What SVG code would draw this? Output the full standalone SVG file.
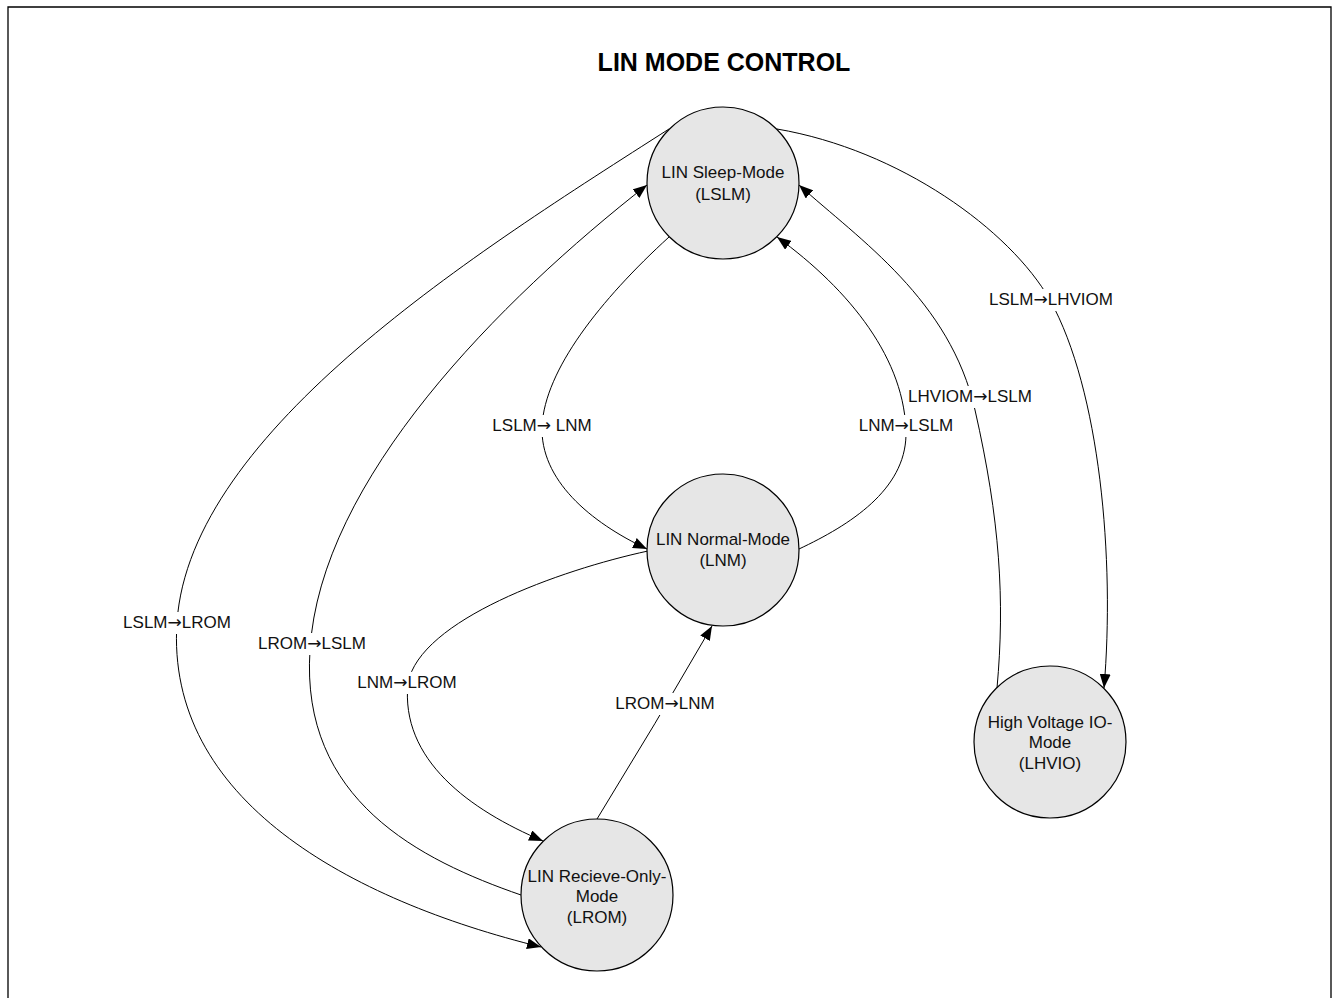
<svg xmlns="http://www.w3.org/2000/svg" width="1333" height="998" viewBox="0 0 1333 998">
<defs>
<marker id="arr" markerUnits="userSpaceOnUse" markerWidth="15" markerHeight="11" refX="14" refY="5.5" orient="auto">
<path d="M0,0 L14,5.5 L0,11 z" fill="#000"/>
</marker>
<style>
.node circle{fill:#e6e6e6;stroke:#000;stroke-width:1.2}
.node text,.lbl text{font-family:"Liberation Sans",Arial,sans-serif;font-size:17px;fill:#111;text-anchor:middle}
.lbl .ar{font-family:"DejaVu Sans",sans-serif;font-size:17px}
.edge{fill:none;stroke:#000;stroke-width:1;marker-end:url(#arr)}
.lbl rect{fill:#fff}
.title{font-family:"Liberation Sans",Arial,sans-serif;font-size:25px;font-weight:bold;text-anchor:middle;fill:#000}
</style>
</defs>
<rect width="1333" height="998" fill="#fff"/>
<path d="M8,998 V7 H1331 V998" fill="none" stroke="#000" stroke-width="1.3"/>
<text class="title" x="724" y="71">LIN MODE CONTROL</text>
<g id="connectors">
<path class="edge" d="M669,237 C600,300 545,370 542,426 C540,480 590,522 647,549"/>
<path class="edge" d="M799,549 C850,525 905,490 906,435 C906,360 850,290 777,237"/>
<path class="edge" d="M777,129 C900,150 1010,230 1050,300 C1100,390 1115,560 1104,688"/>
<path class="edge" d="M997,688 C1005,600 1000,520 975,410 C950,300 860,240 799,185"/>
<path class="edge" d="M669,129 C480,250 190,430 177,622 C165,800 350,900 541,947"/>
<path class="edge" d="M521,895 C420,860 300,800 310,650 C320,480 500,300 647,185"/>
<path class="edge" d="M648,551 C560,570 420,620 408,683 C400,760 470,810 543,841"/>
<path class="edge" d="M597,819 Q655,725 712,626"/>
</g>
<g id="labels" class="lbl">
<g id="l1"><rect x="490" y="415" width="103" height="22"/><text x="542" y="431">LSLM<tspan class="ar">→</tspan> LNM</text></g>
<g id="l2"><rect x="856" y="415" width="100" height="22"/><text x="906" y="431">LNM<tspan class="ar">→</tspan>LSLM</text></g>
<g id="l3"><rect x="987" y="289" width="129" height="22"/><text x="1051" y="305">LSLM<tspan class="ar">→</tspan>LHVIOM</text></g>
<g id="l4"><rect x="905" y="386" width="130" height="22"/><text x="970" y="402">LHVIOM<tspan class="ar">→</tspan>LSLM</text></g>
<g id="l5"><rect x="120" y="612" width="113" height="22"/><text x="177" y="628">LSLM<tspan class="ar">→</tspan>LROM</text></g>
<g id="l6"><rect x="255" y="633" width="113" height="22"/><text x="312" y="649">LROM<tspan class="ar">→</tspan>LSLM</text></g>
<g id="l7"><rect x="354" y="672" width="105" height="22"/><text x="407" y="688">LNM<tspan class="ar">→</tspan>LROM</text></g>
<g id="l8"><rect x="613" y="693" width="105" height="22"/><text x="665" y="709">LROM<tspan class="ar">→</tspan>LNM</text></g>
</g>
<g id="LSLM" class="node"><circle cx="723" cy="183" r="76"/><text x="723" y="178">LIN Sleep-Mode</text><text x="723" y="200">(LSLM)</text></g>
<g id="LNM" class="node"><circle cx="723" cy="550" r="76"/><text x="723" y="545">LIN Normal-Mode</text><text x="723" y="566">(LNM)</text></g>
<g id="LROM" class="node"><circle cx="597" cy="895" r="76"/><text x="597" y="882">LIN Recieve-Only-</text><text x="597" y="902">Mode</text><text x="597" y="923">(LROM)</text></g>
<g id="LHVIO" class="node"><circle cx="1050" cy="742" r="76"/><text x="1050" y="728">High Voltage IO-</text><text x="1050" y="748">Mode</text><text x="1050" y="769">(LHVIO)</text></g>
</svg>
